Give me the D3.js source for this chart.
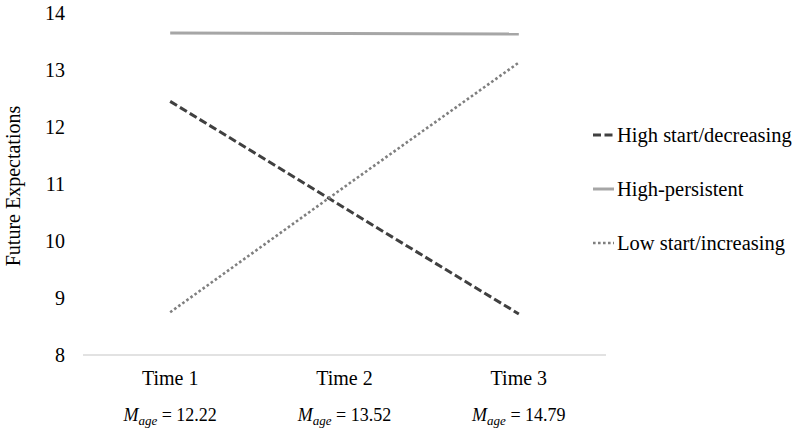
<!DOCTYPE html>
<html>
<head>
<meta charset="utf-8">
<script src="https://cdn.jsdelivr.net/npm/d3@7"></script>
<style>
    body { margin: 0; background: #fff; }
    svg text { font-family: "Liberation Serif", "Times New Roman", serif; fill: #000; }
</style>
</head>
<body>
<div id="chart"></div>
<script>
// data
const categories = ['Time 1', 'Time 2', 'Time 3'];
const ageMeans = ['12.22', '13.52', '14.79'];
const yTicks = [8, 9, 10, 11, 12, 13, 14];
const highStartDecreasing = [12.45, 10.58, 8.72];
const highPersistent = [13.65, 13.64, 13.63];
const lowStartIncreasing = [8.75, 10.95, 13.13];

const seriesNames = ['High start/decreasing', 'High-persistent', 'Low start/increasing'];
const seriesValues = [highStartDecreasing, highPersistent, lowStartIncreasing];

const W = 800, H = 433;
const plot = { left: 83, right: 606, top: 13, bottom: 355 };
const FONT = '"Liberation Serif", "Times New Roman", serif';

// line styles per series
const styles = [
    { stroke: '#404040', width: 3, dash: '8,3.5' },
    { stroke: '#a6a6a6', width: 3, dash: null },
    { stroke: '#7f7f7f', width: 2.6, dash: '2.6,2.4' }
];

const svg = d3.select('#chart').append('svg')
    .attr('width', W).attr('height', H)
    .attr('font-family', FONT);

const x = d3.scaleBand().domain(categories).range([plot.left, plot.right]).padding(0);
const cx = d => x(d) + x.bandwidth() / 2;
const y = d3.scaleLinear().domain([8, 14]).range([plot.bottom, plot.top]);

// y tick labels (no axis line)
svg.append('g')
    .selectAll('text')
    .data(yTicks)
    .join('text')
    .attr('x', 65)
    .attr('y', d => y(d))
    .attr('dy', '0.35em')
    .attr('text-anchor', 'end')
    .style('font-family', FONT)
    .style('font-size', '20px')
    .text(d => d);

// bottom axis line
svg.append('line')
    .attr('x1', plot.left).attr('x2', plot.right)
    .attr('y1', y(8)).attr('y2', y(8))
    .attr('stroke', '#d9d9d9').attr('stroke-width', 1.5);

// category labels
svg.append('g')
    .selectAll('text')
    .data(categories)
    .join('text')
    .attr('x', d => cx(d))
    .attr('y', 385)
    .attr('text-anchor', 'middle')
    .style('font-family', FONT)
    .style('font-size', '20px')
    .text(d => d);

// M_age rows
const ageText = svg.append('g')
    .selectAll('text')
    .data(categories)
    .join('text')
    .attr('x', (d, i) => cx(d))
    .attr('y', 421)
    .attr('text-anchor', 'middle')
    .style('font-family', FONT)
    .style('font-size', '18px');
ageText.append('tspan').style('font-style', 'italic').text('M');
ageText.append('tspan').style('font-style', 'italic').style('font-size', '13px').attr('dy', 4).text('age');
ageText.append('tspan').attr('dy', -4).text((d, i) => ' = ' + ageMeans[i]);

// y axis title
svg.append('text')
    .attr('transform', 'translate(20,186) rotate(-90)')
    .attr('text-anchor', 'middle')
    .style('font-family', FONT)
    .style('font-size', '20px')
    .text('Future Expectations');

// series lines
const line = d3.line()
    .x((d, i) => cx(categories[i]))
    .y(d => y(d));

seriesValues.forEach((vals, k) => {
    svg.append('path')
        .datum(vals)
        .attr('fill', 'none')
        .attr('stroke', styles[k].stroke)
        .attr('stroke-width', styles[k].width)
        .attr('stroke-dasharray', styles[k].dash)
        .attr('d', line);
});

// legend
const legendY = [135, 189, 243];
const lg = svg.append('g')
    .selectAll('g')
    .data(seriesNames)
    .join('g')
    .attr('transform', (d, i) => `translate(593,${legendY[i]})`);
lg.append('line')
    .attr('x1', 0).attr('x2', 21)
    .attr('stroke', (d, i) => styles[i].stroke)
    .attr('stroke-width', (d, i) => styles[i].width)
    .attr('stroke-dasharray', (d, i) => styles[i].dash);
lg.append('text')
    .attr('x', 24)
    .attr('dy', '0.33em')
    .style('font-family', FONT)
    .style('font-size', '20.5px')
    .text(d => d);
</script>
</body>
</html>
